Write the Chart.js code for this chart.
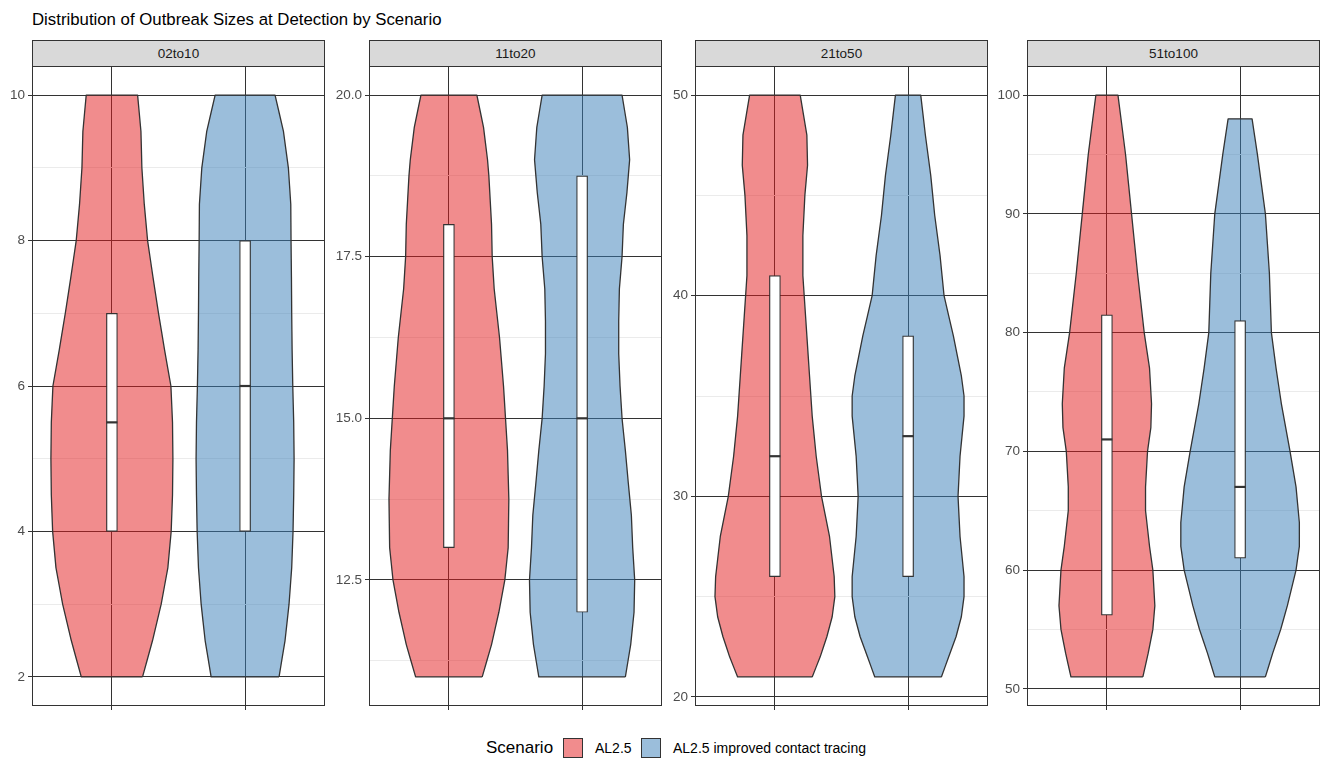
<!DOCTYPE html>
<html><head><meta charset="utf-8">
<script src="https://cdn.jsdelivr.net/npm/chart.js@4.4.1/dist/chart.umd.min.js"></script>
<style>
html,body{margin:0;padding:0;background:#fff;}
body{width:1321px;height:761px;position:relative;overflow:hidden;font-family:'Liberation Sans',Arial,sans-serif;}
#title{position:absolute;left:32px;top:10px;font-size:16.8px;line-height:20px;color:#000;white-space:nowrap;}
.strip{position:absolute;top:40px;height:27px;box-sizing:border-box;border:1px solid #333;background:#d9d9d9;color:#1a1a1a;font-size:13.5px;text-align:center;line-height:25px;}
.pane{position:absolute;}
.lg{position:absolute;white-space:nowrap;line-height:20px;}
.key{position:absolute;width:20px;height:20px;box-sizing:border-box;border:1px solid #333;}
</style></head>
<body>
<div id="title">Distribution of Outbreak Sizes at Detection by Scenario</div>
<script>
// ---------------- DATA ----------------
const facets = ['02to10', '11to20', '21to50', '51to100'];
const scenarios = ['AL2.5', 'AL2.5 improved contact tracing'];
const scenarioX = [1, 2];

// violin outlines: outbreak size levels (y) and half-widths (w) per facet / scenario
const f1_y_AL = [2, 2.5, 3, 3.5, 4, 4.5, 5, 5.5, 6, 6.5, 7, 7.5, 8, 8.5, 9, 9.5, 10];
const f1_w_AL = [0.23, 0.305, 0.37, 0.42, 0.445, 0.455, 0.458, 0.455, 0.443, 0.395, 0.35, 0.308, 0.268, 0.243, 0.225, 0.218, 0.193];
const f1_y_CT = [2, 2.5, 3, 3.5, 4, 4.5, 5, 5.5, 6, 6.5, 7, 7.5, 8, 8.5, 9, 9.5, 10];
const f1_w_CT = [0.255, 0.30, 0.33, 0.35, 0.36, 0.365, 0.368, 0.365, 0.358, 0.353, 0.35, 0.348, 0.345, 0.343, 0.325, 0.288, 0.225];

const f2_y_AL = [11, 11.5, 12, 12.5, 13, 13.75, 14.5, 15, 15.5, 16.25, 17, 17.5, 18, 18.75, 19, 19.5, 20];
const f2_w_AL = [0.25, 0.32, 0.375, 0.42, 0.445, 0.45, 0.44, 0.425, 0.41, 0.38, 0.34, 0.325, 0.32, 0.30, 0.29, 0.26, 0.21];
const f2_y_CT = [11, 11.5, 12, 12.5, 13, 13.5, 14, 14.5, 15, 15.5, 16, 16.5, 17, 17.5, 18, 18.5, 19, 19.5, 20];
const f2_w_CT = [0.325, 0.365, 0.39, 0.395, 0.38, 0.37, 0.347, 0.325, 0.30, 0.285, 0.275, 0.275, 0.28, 0.30, 0.31, 0.337, 0.357, 0.34, 0.30];

const f3_y_AL = [21, 22, 23, 24, 25, 26, 28, 30, 32, 34, 36, 38, 40, 41, 43, 45, 46.5, 48, 50];
const f3_w_AL = [0.28, 0.34, 0.39, 0.43, 0.45, 0.445, 0.41, 0.35, 0.31, 0.28, 0.26, 0.24, 0.22, 0.21, 0.21, 0.225, 0.245, 0.24, 0.19];
const f3_y_CT = [21, 22, 23, 24, 25, 26, 28, 30, 32, 34, 35, 36, 38, 40, 42, 44, 46, 48, 50];
const f3_w_CT = [0.25, 0.305, 0.36, 0.40, 0.42, 0.42, 0.39, 0.375, 0.39, 0.42, 0.42, 0.40, 0.34, 0.27, 0.24, 0.20, 0.17, 0.13, 0.095];

const f4_y_AL = [51, 53, 55, 57, 60, 62, 65, 67, 70, 72, 74, 77, 80, 85, 90, 95, 100];
const f4_w_AL = [0.27, 0.31, 0.345, 0.36, 0.345, 0.32, 0.29, 0.29, 0.305, 0.33, 0.335, 0.32, 0.28, 0.23, 0.185, 0.14, 0.083];
const f4_y_CT = [51, 53, 55, 57, 60, 62, 64, 67, 70, 74, 77, 80, 85, 90, 95, 98];
const f4_w_CT = [0.19, 0.245, 0.305, 0.355, 0.42, 0.445, 0.445, 0.42, 0.375, 0.31, 0.27, 0.235, 0.22, 0.19, 0.13, 0.09];

// box statistics per facet: [AL2.5, improved contact tracing]
const boxQ1 = [[4, 4], [13, 12], [26, 26], [56.2, 61]];
const boxMedian = [[5.5, 6], [15, 15], [32, 33], [71, 67]];
const boxQ3 = [[7, 8], [18, 18.75], [41, 38], [81.5, 81]];

// y axis ticks
const yMajorTicks = [[2, 4, 6, 8, 10], [12.5, 15, 17.5, 20], [20, 30, 40, 50], [50, 60, 70, 80, 90, 100]];
const yTickLabels = [['2', '4', '6', '8', '10'], ['12.5', '15.0', '17.5', '20.0'], ['20', '30', '40', '50'], ['50', '60', '70', '80', '90', '100']];
const yMinorTicks = [[3, 5, 7, 9], [11.25, 13.75, 16.25, 18.75], [25, 35, 45], [55, 65, 75, 85, 95]];

const violinY = [[f1_y_AL, f1_y_CT], [f2_y_AL, f2_y_CT], [f3_y_AL, f3_y_CT], [f4_y_AL, f4_y_CT]];
const violinW = [[f1_w_AL, f1_w_CT], [f2_w_AL, f2_w_CT], [f3_w_AL, f3_w_CT], [f4_w_AL, f4_w_CT]];

// ---------------- LAYOUT / STYLE ----------------
const panelLeft = [32, 369, 695, 1027];
const PANEL_W = 293, PANEL_TOP = 66, PANEL_H = 640;
const AXW = 40, PADT = 12, PADR = 2, XH = 12;
const yRange = [[1.6, 10.4], [10.55, 20.45], [19.55, 51.45], [48.55, 102.45]];
const fills = ['rgba(228,26,28,0.5)', 'rgba(55,126,184,0.5)'];
const FONT = "'Liberation Sans', Arial, sans-serif";

function violinPoints(cx, ys, ws) {
  const right = ys.map((y, k) => ({ x: cx + ws[k], y }));
  const left = ys.map((y, k) => ({ x: cx - ws[k], y })).reverse();
  return right.concat(left, [right[0]]);
}

const panelBorder = {
  id: 'panelBorder',
  afterDraw(chart) {
    const { ctx, chartArea: a } = chart;
    ctx.save();
    ctx.strokeStyle = '#333';
    ctx.lineWidth = 1;
    ctx.strokeRect(Math.round(a.left) + 0.5, Math.round(a.top) + 0.5, Math.round(a.width) - 1, Math.round(a.height) - 1);
    ctx.restore();
  }
};

facets.forEach((name, i) => {
  const pane = document.createElement('div');
  pane.className = 'pane';
  pane.style.left = (panelLeft[i] - AXW) + 'px';
  pane.style.top = (PANEL_TOP - PADT) + 'px';
  const cw = AXW + PANEL_W + PADR, ch = PADT + PANEL_H + XH;
  pane.style.width = cw + 'px';
  pane.style.height = ch + 'px';
  const cv = document.createElement('canvas');
  cv.width = cw; cv.height = ch;
  cv.style.width = cw + 'px'; cv.style.height = ch + 'px';
  pane.appendChild(cv);
  document.body.appendChild(pane);

  const strip = document.createElement('div');
  strip.className = 'strip';
  strip.style.left = panelLeft[i] + 'px';
  strip.style.width = PANEL_W + 'px';
  strip.textContent = name;
  document.body.appendChild(strip);

  const datasets = [];
  scenarios.forEach((s, j) => {
    datasets.push({
      type: 'scatter', label: s,
      data: violinPoints(scenarioX[j], violinY[i][j], violinW[i][j]),
      showLine: true, fill: 'shape', backgroundColor: fills[j],
      borderColor: '#333', borderWidth: 1.3, borderJoinStyle: 'round',
      pointRadius: 0, tension: 0.001, order: 3
    });
  });
  datasets.push({
    type: 'bar', label: 'box',
    data: scenarioX.map((x, j) => ({ x, y: [boxQ1[i][j], boxQ3[i][j]] })),
    backgroundColor: '#fff', borderColor: '#333', borderWidth: 1.2,
    borderSkipped: false, barThickness: 11, grouped: false, order: 2
  });
  datasets.push({
    type: 'scatter', label: 'median',
    data: scenarioX.map((x, j) => ({ x, y: boxMedian[i][j] })),
    pointStyle: 'line', pointRadius: 5.5, pointBorderColor: '#333', pointBorderWidth: 2.2,
    borderColor: '#333', order: 1
  });

  const allY = yMajorTicks[i].concat(yMinorTicks[i]).sort((a, b) => a - b);
  const isMajor = v => yMajorTicks[i].some(m => Math.abs(m - v) < 1e-9);

  new Chart(cv, {
    type: 'scatter',
    data: { datasets },
    options: {
      responsive: false, animation: false, events: [],
      layout: { autoPadding: false, padding: { top: PADT, right: PADR, left: 0, bottom: 0 } },
      plugins: { legend: { display: false }, tooltip: { enabled: false } },
      scales: {
        x: {
          type: 'linear', min: 0.4, max: 2.6, offset: false,
          afterBuildTicks: s => { s.ticks = scenarioX.map(v => ({ value: v })); },
          afterFit: s => { s.height = XH; },
          ticks: { display: false },
          grid: { offset: false, color: '#333', lineWidth: 1, tickLength: 4, tickColor: '#333' },
          border: { display: false }
        },
        y: {
          type: 'linear', min: yRange[i][0], max: yRange[i][1], offset: false,
          afterBuildTicks: s => { s.ticks = allY.map(v => ({ value: v })); },
          afterFit: s => { s.width = AXW; },
          ticks: {
            autoSkip: false, padding: 3, color: '#4d4d4d',
            font: { family: FONT, size: 13.5 },
            callback: (v) => {
              const k = yMajorTicks[i].findIndex(m => Math.abs(m - v) < 1e-9);
              return k >= 0 ? yTickLabels[i][k] : '';
            }
          },
          grid: {
            offset: false,
            color: c => (c.tick && isMajor(c.tick.value)) ? '#333' : '#ebebeb',
            tickColor: c => (c.tick && isMajor(c.tick.value)) ? '#333' : 'rgba(0,0,0,0)',
            lineWidth: 1, tickLength: 4
          },
          border: { display: false }
        }
      }
    },
    plugins: [panelBorder]
  });
});

// legend
function addLegendText(txt, left, size) {
  const d = document.createElement('div');
  d.className = 'lg';
  d.style.left = left + 'px';
  d.style.top = '738px';
  d.style.fontSize = size + 'px';
  d.textContent = txt;
  document.body.appendChild(d);
}
addLegendText('Scenario', 486, 17);
const keyLeft = [563, 641];
const textLeft = [595, 673];
scenarios.forEach((s, j) => {
  const k = document.createElement('div');
  k.className = 'key';
  k.style.left = keyLeft[j] + 'px';
  k.style.top = '738px';
  k.style.background = fills[j];
  document.body.appendChild(k);
  addLegendText(s, textLeft[j], 14);
});
</script>
</body></html>
